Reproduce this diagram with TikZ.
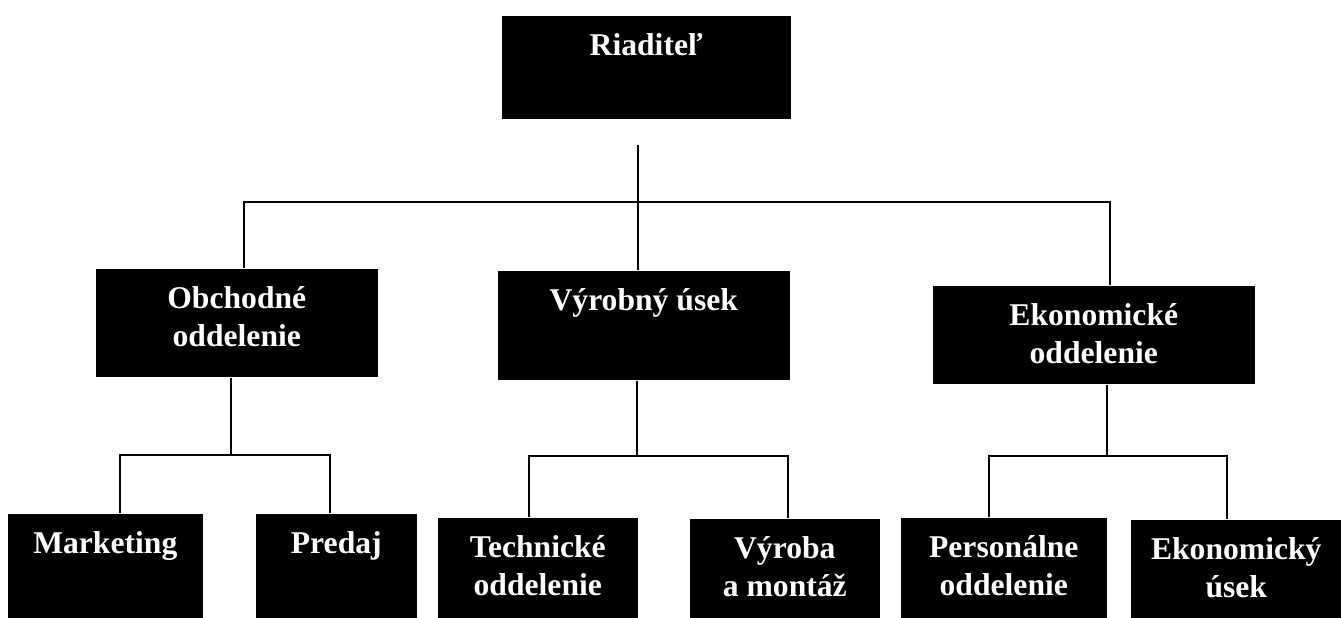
\documentclass[tikz,border=0pt]{standalone}
\usepackage{fontspec}
\setmainfont{Liberation Serif}
\usepackage{tikz}
\usetikzlibrary{positioning}

\begin{document}
\begin{tikzpicture}[
    unitBox/.style={fill=black, anchor=north west, inner sep=0pt},
    unitText/.style={anchor=north, yshift=-0.36cm, inner sep=0pt, text=white, align=center,
        font=\fontsize{18}{21.6}\selectfont\bfseries},
    every path/.style={line width=0.9pt}
        ]
    \useasboundingbox (0, 0) rectangle (26.82, -12.36);

    % top level
    \node[unitBox, minimum width=5.78cm, minimum height=2.06cm] (riaditel) at (10.02, -0.30) {};
    \node[unitText] (riaditelText) at (riaditel.north) {Riaditeľ};

    % middle level
    \node[unitBox, minimum width=5.64cm, minimum height=2.16cm] (obchodne) at (1.90, -5.36) {};
    \node[unitBox, minimum width=5.84cm, minimum height=2.18cm] (vyrobny) at (9.94, -5.40) {};
    \node[unitBox, minimum width=6.44cm, minimum height=1.96cm] (ekonomicke) at (18.64, -5.70) {};
    \node[unitText] (obchodneText) at (obchodne.north) {Obchodné\\oddelenie};
    \node[unitText] (vyrobnyText) at (vyrobny.north) {Výrobný úsek};
    \node[unitText] (ekonomickeText) at (ekonomicke.north) {Ekonomické\\oddelenie};

    % bottom level
    \node[unitBox, minimum width=3.90cm, minimum height=2.10cm] (marketing) at (0.14, -10.26) {};
    \node[unitBox, minimum width=3.22cm, minimum height=2.10cm] (predaj) at (5.10, -10.26) {};
    \node[unitBox, minimum width=4.00cm, minimum height=2.02cm] (technicke) at (8.74, -10.34) {};
    \node[unitBox, minimum width=3.80cm, minimum height=2.00cm] (vyroba) at (13.78, -10.36) {};
    \node[unitBox, minimum width=4.12cm, minimum height=2.02cm] (personalne) at (18.00, -10.34) {};
    \node[unitBox, minimum width=4.22cm, minimum height=1.98cm] (ekonomicky) at (22.60, -10.38) {};
    \node[unitText] (marketingText) at (marketing.north) {Marketing};
    \node[unitText] (predajText) at (predaj.north) {Predaj};
    \node[unitText] (technickeText) at (technicke.north) {Technické\\oddelenie};
    \node[unitText] (vyrobaText) at (vyroba.north) {Výroba\\a montáž};
    \node[unitText] (personalneText) at (personalne.north) {Personálne\\oddelenie};
    \node[unitText] (ekonomickyText) at (ekonomicky.north) {Ekonomický\\úsek};

    \coordinate (topStart) at (12.76, -2.90);
    \coordinate (mainBus) at (12.76, -4.04);
    \coordinate (obchodneBus) at (4.62, -9.10);
    \coordinate (vyrobnyBus) at (12.74, -9.12);
    \coordinate (ekonomickeBus) at (22.14, -9.12);

    \draw (topStart) -- (vyrobny.north -| topStart);
    \draw ([xshift=0.14cm]obchodne.north) |- (mainBus) -| ([xshift=0.32cm]ekonomicke.north);

    \draw (obchodne.south -| obchodneBus) -- (obchodneBus);
    \draw ([xshift=0.29cm]marketing.north) |- (obchodneBus) -| ([xshift=-0.13cm]predaj.north);

    \draw (vyrobny.south -| vyrobnyBus) -- (vyrobnyBus);
    \draw ([xshift=-0.18cm]technicke.north) |- (vyrobnyBus) -| ([xshift=0.06cm]vyroba.north);

    \draw (ekonomicke.south -| ekonomickeBus) -- (ekonomickeBus);
    \draw ([xshift=-0.30cm]personalne.north) |- (ekonomickeBus) -| ([xshift=-0.19cm]ekonomicky.north);
\end{tikzpicture}
\end{document}
